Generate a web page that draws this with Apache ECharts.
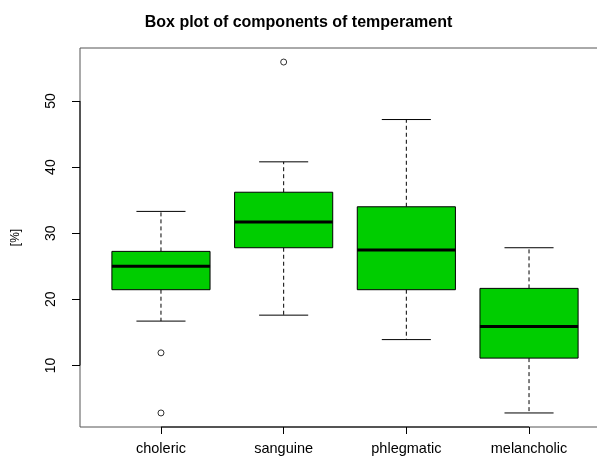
<!DOCTYPE html>
<html>
<head>
<meta charset="utf-8">
<script src="https://cdn.jsdelivr.net/npm/echarts@6/dist/echarts.min.js"></script>
<style>
  html, body { margin: 0; padding: 0; background: #fff; }
  #chart { width: 597px; height: 459px; }
</style>
</head>
<body>
<div id="chart"></div>
<script>
// Components of temperament, five-number summaries per category (percent)
const categories   = ['choleric', 'sanguine', 'phlegmatic', 'melancholic'];
const whiskerLow   = [16.7, 17.6, 13.9, 2.8];
const quartile1    = [21.45, 27.8, 21.45, 11.1];
const medians      = [25.0, 31.7, 27.45, 15.9];
const quartile3    = [27.25, 36.2, 34.0, 21.65];
const whiskerHigh  = [33.3, 40.8, 47.2, 27.8];
// outlying observations: [category index, value]
const outliers     = [[0, 11.9], [0, 2.8], [1, 55.9]];
const yTicks       = [10, 20, 30, 40, 50];

const FONT = '"Liberation Sans", Arial, Helvetica, sans-serif';
const BOX_FILL = '#00cd00';

// R-style ranges: x spans 0.5..n+0.5 and both axes get 4% padding
const n = categories.length;
const xLo = 0.5 - 0.04 * n, xHi = n + 0.5 + 0.04 * n;
const allVals = whiskerLow.concat(whiskerHigh, outliers.map(o => o[1]));
const dMin = Math.min.apply(null, allVals), dMax = Math.max.apply(null, allVals);
const pad = 0.04 * (dMax - dMin);
const yLo = dMin - pad, yHi = dMax + pad;

const boxData = categories.map((c, i) => [i + 1, whiskerLow[i], quartile1[i], medians[i], quartile3[i], whiskerHigh[i]]);
const outlierData = outliers.map(o => [o[0] + 1, o[1]]);

function renderBox(params, api) {
  const x = api.value(0);
  const lo = api.coord([x, api.value(1)]);
  const q1 = api.coord([x, api.value(2)]);
  const md = api.coord([x, api.value(3)]);
  const q3 = api.coord([x, api.value(4)]);
  const hi = api.coord([x, api.value(5)]);
  const boxW = api.size([0.8, 0])[0];
  const capW = api.size([0.4, 0])[0];
  const cx = lo[0];
  const dash = { stroke: '#000', lineWidth: 1, lineDash: [4, 3] };
  const solid = { stroke: '#000', lineWidth: 1 };
  return {
    type: 'group',
    children: [
      { type: 'line', shape: { x1: cx, y1: q3[1], x2: cx, y2: hi[1] }, style: dash },
      { type: 'line', shape: { x1: cx, y1: q1[1], x2: cx, y2: lo[1] }, style: dash },
      { type: 'line', shape: { x1: cx - capW / 2, y1: hi[1], x2: cx + capW / 2, y2: hi[1] }, style: solid },
      { type: 'line', shape: { x1: cx - capW / 2, y1: lo[1], x2: cx + capW / 2, y2: lo[1] }, style: solid },
      { type: 'rect', shape: { x: cx - boxW / 2, y: q3[1], width: boxW, height: q1[1] - q3[1] },
        style: { fill: BOX_FILL, stroke: '#000', lineWidth: 1 } },
      { type: 'line', shape: { x1: cx - boxW / 2, y1: md[1], x2: cx + boxW / 2, y2: md[1] },
        style: { stroke: '#000', lineWidth: 3 } }
    ]
  };
}

// axis spines run from first to last tick, as in base R graphics
function renderSpines(params, api) {
  if (params.dataIndex !== 0) return null;
  const a = api.coord([xLo, yTicks[0]]);
  const b = api.coord([xLo, yTicks[yTicks.length - 1]]);
  const c = api.coord([1, yLo]);
  const d = api.coord([n, yLo]);
  return {
    type: 'group',
    children: [
      { type: 'line', shape: { x1: a[0], y1: a[1], x2: b[0], y2: b[1] }, style: { stroke: '#000', lineWidth: 1 } },
      { type: 'line', shape: { x1: c[0], y1: c[1], x2: d[0], y2: d[1] }, style: { stroke: '#000', lineWidth: 1 } }
    ]
  };
}

const chart = echarts.init(document.getElementById('chart'), null, { renderer: 'canvas' });
chart.setOption({
  animation: false,
  backgroundColor: '#ffffff',
  title: {
    text: 'Box plot of components of temperament',
    left: 'center', top: 10,
    textStyle: { fontFamily: FONT, fontSize: 16, fontWeight: 'bold', color: '#000' }
  },
  grid: {
    left: 80, top: 48, width: 530, height: 379,
    outerBoundsMode: 'none', containLabel: false,
    show: true, borderColor: '#555', borderWidth: 1, backgroundColor: 'transparent'
  },
  xAxis: {
    type: 'value', min: xLo, max: xHi,
    splitLine: { show: false },
    axisLine: { show: false },
    axisTick: { show: true, length: 7, customValues: categories.map((c, i) => i + 1), lineStyle: { color: '#000' } },
    axisLabel: {
      customValues: categories.map((c, i) => i + 1), margin: 14,
      formatter: v => categories[Math.round(v) - 1] || '',
      fontFamily: FONT, fontSize: 14.5, color: '#000'
    }
  },
  yAxis: {
    type: 'value', min: yLo, max: yHi,
    name: '[%]', nameLocation: 'middle', nameGap: 58, nameRotate: 90,
    nameTextStyle: { fontFamily: FONT, fontSize: 12, color: '#000' },
    splitLine: { show: false },
    axisLine: { show: false },
    axisTick: { show: true, length: 8, customValues: yTicks, lineStyle: { color: '#000' } },
    axisLabel: {
      customValues: yTicks, rotate: 90, margin: 22,
      fontFamily: FONT, fontSize: 14, color: '#000'
    }
  },
  series: [
    { type: 'custom', name: 'spines', renderItem: renderSpines, data: [[0]], silent: true, clip: false, z: 1 },
    { type: 'custom', name: 'boxes', renderItem: renderBox, data: boxData, encode: { x: 0, y: [1, 2, 3, 4, 5] }, z: 2 },
    {
      type: 'scatter', name: 'outliers', data: outlierData, symbol: 'circle', symbolSize: 6,
      itemStyle: { color: '#fff', borderColor: '#000', borderWidth: 1 }, z: 3
    }
  ]
});
</script>
</body>
</html>
